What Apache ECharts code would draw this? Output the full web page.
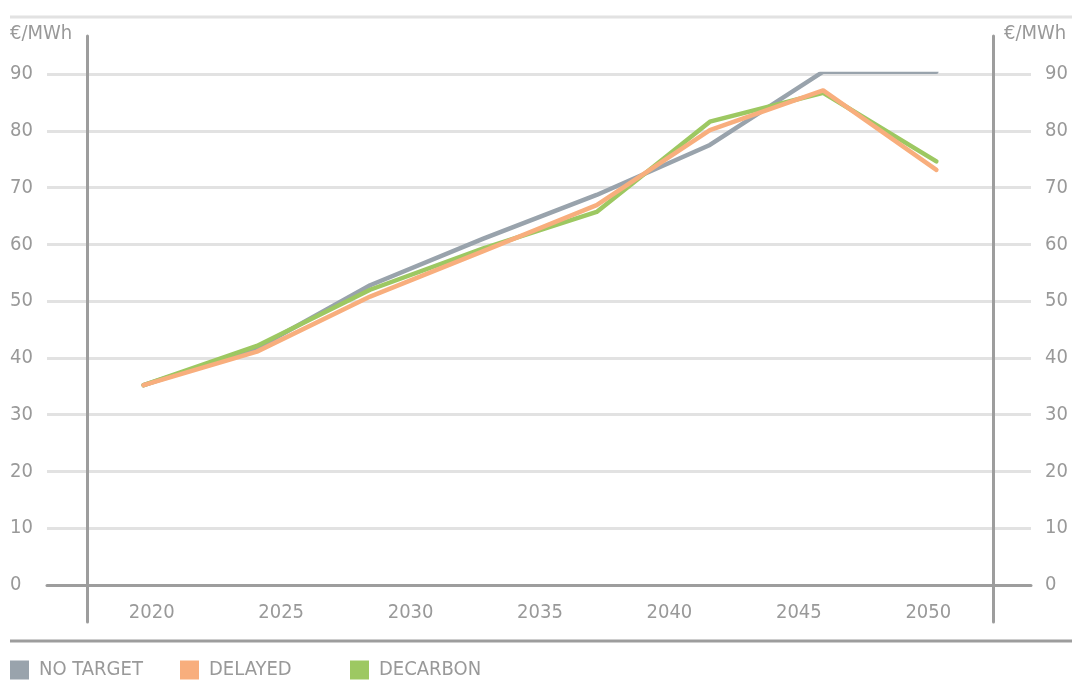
<!DOCTYPE html>
<html>
<head>
<meta charset="utf-8">
<script src="https://cdn.jsdelivr.net/npm/echarts@6/dist/echarts.min.js"></script>
<style>
    html, body { margin: 0; padding: 0; background: #fff; }
    #chart { width: 1072px; height: 691px; }
</style>
</head>
<body>
<div id="chart"></div>
<script>
// year labels on the axis (7 bands)
const yearLabels = ['2020', '2025', '2030', '2035', '2040', '2045', '2050'];
// the lines use 8 evenly spaced points across the same width
const pointSlots = ['p1', 'p2', 'p3', 'p4', 'p5', 'p6', 'p7', 'p8'];

const noTarget = [35.2, 41.7, 52.8, 61.0, 68.7, 77.5, 90.4, 90.4];
const delayed  = [35.2, 41.1, 50.8, 58.8, 66.9, 80.1, 87.1, 73.1];
const decarbon = [35.2, 42.1, 52.0, 59.3, 65.7, 81.6, 86.7, 74.6];

const unit = '€/MWh';

const FONT = "'DejaVu Sans Condensed', 'Liberation Sans Narrow', sans-serif";
const FONT_SIZE = 20;
const TEXT_GREY = '#999999';
const AXIS_GREY = '#9d9d9d';
const GRID_GREY = '#e2e2e2';

const chart = echarts.init(document.getElementById('chart'), null, { renderer: 'canvas' });

const labelStyle = { color: TEXT_GREY, fontSize: FONT_SIZE, fontFamily: FONT };

function legendFor(name, left) {
    return {
        data: [name],
        left: left,
        top: 660,
        icon: 'rect',
        itemWidth: 19,
        itemHeight: 19,
        itemGap: 0,
        selectedMode: false,
        padding: 0,
        textStyle: { color: TEXT_GREY, fontSize: FONT_SIZE, fontFamily: FONT, padding: [2, 0, 0, 5] }
    };
}

const option = {
    backgroundColor: '#fff',
    animation: false,
    grid: [
        // horizontal split lines and tick labels
        { left: 47, right: 41, top: 74, bottom: 106 },
        // plotted lines and year labels
        { left: 87, right: 79, top: 74, bottom: 106 },
        // tall vertical axis lines
        { left: 87, right: 79, top: 36, bottom: 69 }
    ],
    xAxis: [
        {
            gridIndex: 0, type: 'category', data: yearLabels,
            axisLine: { show: true, lineStyle: { color: AXIS_GREY, width: 3 } },
            axisTick: { show: false }, axisLabel: { show: false }, splitLine: { show: false }
        },
        {
            gridIndex: 1, type: 'category', data: yearLabels, boundaryGap: true,
            axisLine: { show: false }, axisTick: { show: false },
            axisLabel: { ...labelStyle, margin: 18 }
        },
        {
            gridIndex: 1, type: 'category', data: pointSlots, boundaryGap: true,
            show: false
        },
        {
            gridIndex: 2, type: 'category', data: yearLabels, show: false
        }
    ],
    yAxis: [
        {
            gridIndex: 0, type: 'value', min: 0, max: 90, interval: 10, position: 'left',
            axisLine: { show: false }, axisTick: { show: false },
            axisLabel: { ...labelStyle, align: 'left', margin: 37 },
            splitLine: { show: true, lineStyle: { color: GRID_GREY, width: 3 } }
        },
        {
            gridIndex: 0, type: 'value', min: 0, max: 90, interval: 10, position: 'right',
            axisLine: { show: false }, axisTick: { show: false },
            axisLabel: { ...labelStyle, align: 'left', margin: 14 },
            splitLine: { show: false }
        },
        {
            gridIndex: 1, type: 'value', min: 0, max: 90, show: false
        },
        {
            gridIndex: 2, type: 'value', position: 'left',
            axisLine: { show: true, lineStyle: { color: AXIS_GREY, width: 3 } },
            axisTick: { show: false }, axisLabel: { show: false }, splitLine: { show: false }
        },
        {
            gridIndex: 2, type: 'value', position: 'right',
            axisLine: { show: true, lineStyle: { color: AXIS_GREY, width: 3 } },
            axisTick: { show: false }, axisLabel: { show: false }, splitLine: { show: false }
        }
    ],
    legend: [
        legendFor('NO TARGET', 10),
        legendFor('DELAYED', 180),
        legendFor('DECARBON', 350)
    ],
    series: [
        {
            name: 'NO TARGET', type: 'line', data: noTarget,
            xAxisIndex: 2, yAxisIndex: 2, symbol: 'none', color: '#99a3ac',
            lineStyle: { width: 4.5, cap: 'round', join: 'round' }
        },
        {
            name: 'DECARBON', type: 'line', data: decarbon,
            xAxisIndex: 2, yAxisIndex: 2, symbol: 'none', color: '#9dc862',
            lineStyle: { width: 4.5, cap: 'round', join: 'round' }
        },
        {
            name: 'DELAYED', type: 'line', data: delayed,
            xAxisIndex: 2, yAxisIndex: 2, symbol: 'none', color: '#f8ae7d',
            lineStyle: { width: 4.5, cap: 'round', join: 'round' }
        }
    ],
    graphic: [
        { type: 'line', shape: { x1: 10, y1: 17, x2: 1072, y2: 17 }, style: { stroke: GRID_GREY, lineWidth: 3 } },
        { type: 'line', shape: { x1: 10, y1: 641, x2: 1072, y2: 641 }, style: { stroke: AXIS_GREY, lineWidth: 3 } },
        { type: 'text', left: 10, top: 24, style: { text: unit, fill: TEXT_GREY, font: FONT_SIZE + 'px ' + FONT } },
        { type: 'text', left: 1004, top: 24, style: { text: unit, fill: TEXT_GREY, font: FONT_SIZE + 'px ' + FONT } }
    ]
};

chart.setOption(option);
window.addEventListener('resize', () => chart.resize());
</script>
</body>
</html>
